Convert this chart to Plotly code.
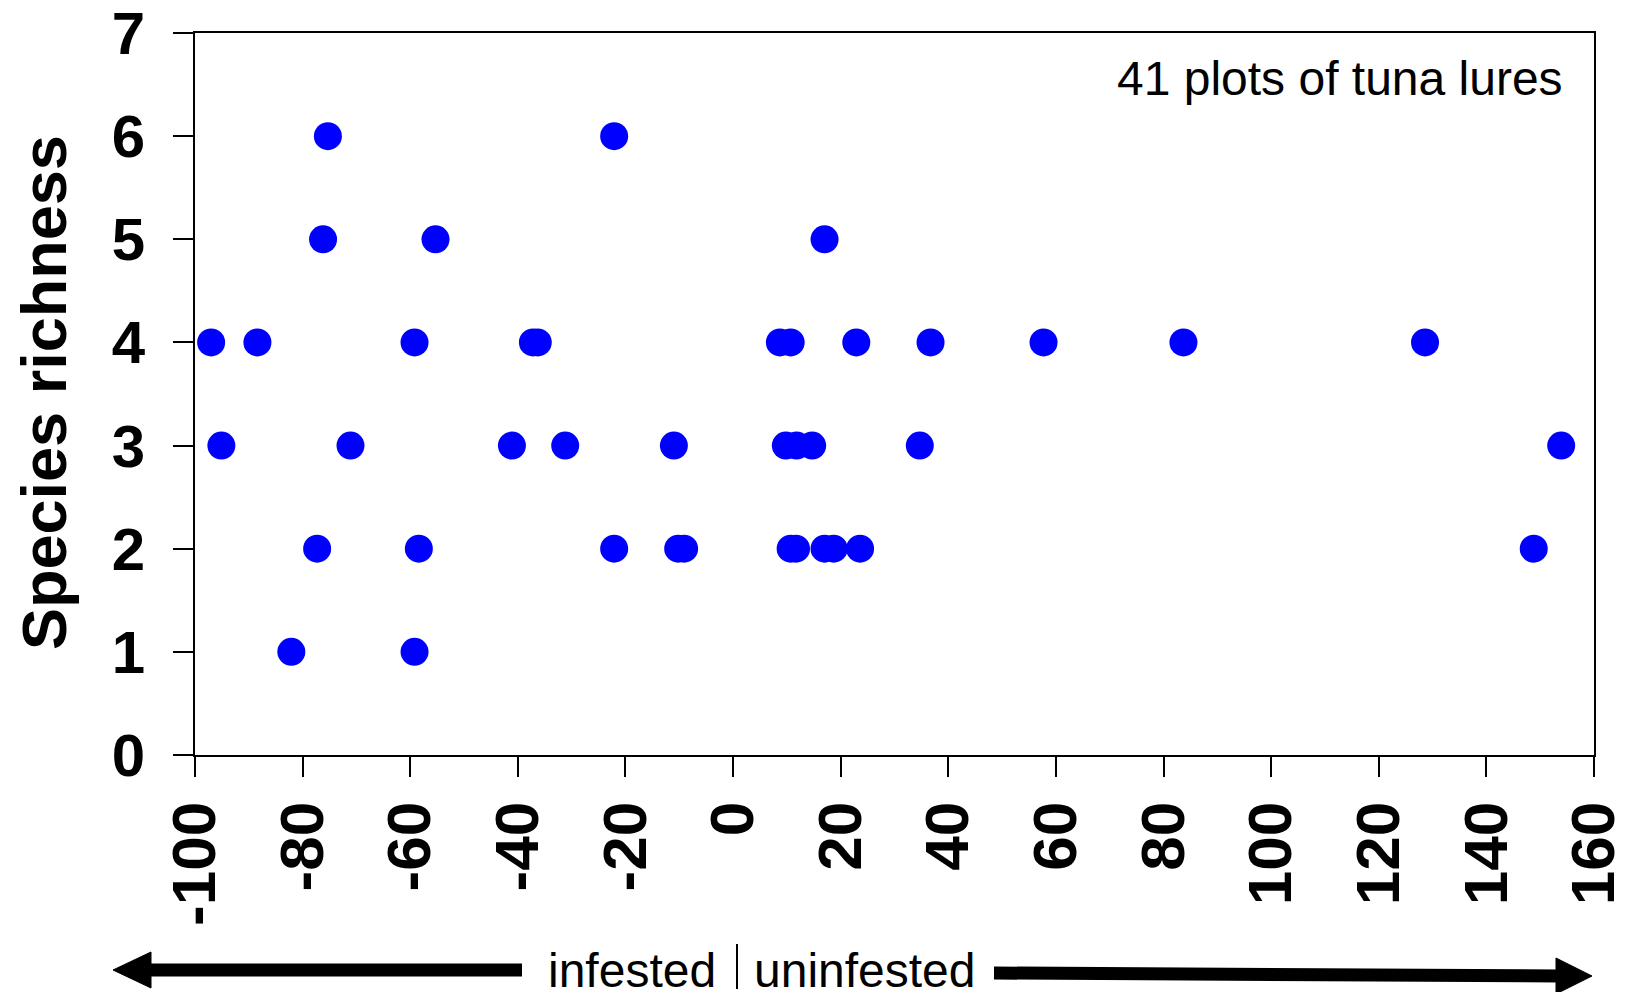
import plotly.graph_objects as go

# ---- data ----
x_vals = [-75.3, -22.1,
          -76.2, -55.3, 17.0,
          -97.0, -88.4, -59.2, -37.2, -36.3, 8.7, 10.7, 22.9, 36.7, 57.7, 83.7, 128.6,
          -95.1, -71.1, -41.1, -31.2, -11.0, 9.8, 11.8, 14.7, 34.7, 153.9,
          -77.3, -58.4, -22.1, -10.2, -9.1, 10.7, 11.7, 17.0, 18.7, 23.6, 148.8,
          -82.1, -59.2]
y_vals = [6, 6,
          5, 5, 5,
          4, 4, 4, 4, 4, 4, 4, 4, 4, 4, 4, 4,
          3, 3, 3, 3, 3, 3, 3, 3, 3, 3,
          2, 2, 2, 2, 2, 2, 2, 2, 2, 2, 2,
          1, 1]
x_ticks = [-100, -80, -60, -40, -20, 0, 20, 40, 60, 80, 100, 120, 140, 160]
y_ticks = [0, 1, 2, 3, 4, 5, 6, 7]
y_title = "Species richness"
note_text = "41 plots of tuna lures"
left_label = "infested"
right_label = "uninfested"

# ---- layout geometry (pixels) ----
W, H = 1630, 992
L, R, T, B = 195, 36, 33, 237
PW, PH = W - L - R, H - T - B
FONT = "Liberation Sans, Arial, sans-serif"


def px(xp):
    return (xp - L) / PW


def py(yp):
    return (H - B - yp) / PH


fig = go.Figure()
fig.add_trace(go.Scatter(
    x=x_vals, y=y_vals, mode="markers",
    marker=dict(color="#0000FF", size=28, line=dict(width=0)),
    cliponaxis=False, showlegend=False, hoverinfo="skip",
))

axis_common = dict(
    showline=True, linecolor="black", linewidth=2, mirror=True,
    ticks="outside", ticklen=20, tickwidth=2, tickcolor="black",
    showgrid=False, zeroline=False, automargin=False,
)
fig.update_xaxes(range=[-100, 160], tickvals=x_ticks, ticktext=[str(v) for v in x_ticks],
                 tickangle=-90, ticklabelstandoff=0,
                 tickfont=dict(family=FONT, size=62, color="black", weight="bold"),
                 **axis_common)
fig.update_yaxes(range=[0, 7], tickvals=y_ticks, ticktext=[str(v) for v in y_ticks],
                 ticklabelstandoff=16,
                 tickfont=dict(family=FONT, size=60, color="black", weight="bold"),
                 **axis_common)

annotations = [
    dict(text=y_title, xref="paper", yref="paper", x=px(44), y=py(393),
         xanchor="center", yanchor="middle", textangle=-90, showarrow=False,
         font=dict(family=FONT, size=63, color="black", weight="bold")),
    dict(text=note_text, xref="paper", yref="paper", x=px(1565), y=py(79),
         xanchor="right", yanchor="middle", showarrow=False,
         font=dict(family=FONT, size=48, color="black")),
    dict(text=left_label, xref="paper", yref="paper", x=px(718), y=py(970),
         xanchor="right", yanchor="middle", showarrow=False,
         font=dict(family=FONT, size=48, color="black")),
    dict(text=right_label, xref="paper", yref="paper", x=px(752), y=py(970),
         xanchor="left", yanchor="middle", showarrow=False,
         font=dict(family=FONT, size=48, color="black")),
]

shapes = [
    # separator bar
    dict(type="line", xref="paper", yref="paper", x0=px(737), x1=px(737),
         y0=py(944), y1=py(989), line=dict(color="black", width=2)),
    # left arrow shaft + head
    dict(type="line", xref="paper", yref="paper", x0=px(522), x1=px(148),
         y0=py(970), y1=py(970), line=dict(color="black", width=13)),
    dict(type="path", xref="paper", yref="paper",
         path=f"M {px(113)} {py(970)} L {px(151)} {py(952)} L {px(151)} {py(988)} Z",
         fillcolor="black", line=dict(color="black", width=1)),
    # right arrow shaft + head
    dict(type="line", xref="paper", yref="paper", x0=px(994), x1=px(1559),
         y0=py(973), y1=py(976), line=dict(color="black", width=13)),
    dict(type="path", xref="paper", yref="paper",
         path=f"M {px(1592)} {py(976)} L {px(1556)} {py(958)} L {px(1556)} {py(994)} Z",
         fillcolor="black", line=dict(color="black", width=1)),
]

fig.update_layout(
    width=W, height=H, autosize=False,
    margin=dict(l=L, r=R, t=T, b=B, pad=0),
    paper_bgcolor="white", plot_bgcolor="white",
    font=dict(family=FONT, color="black"),
    annotations=annotations, shapes=shapes,
)

fig.write_html(
    "out.html",
    config={"displayModeBar": False},
    post_script="document.body.style.margin='0';document.body.style.overflow='hidden';",
)
